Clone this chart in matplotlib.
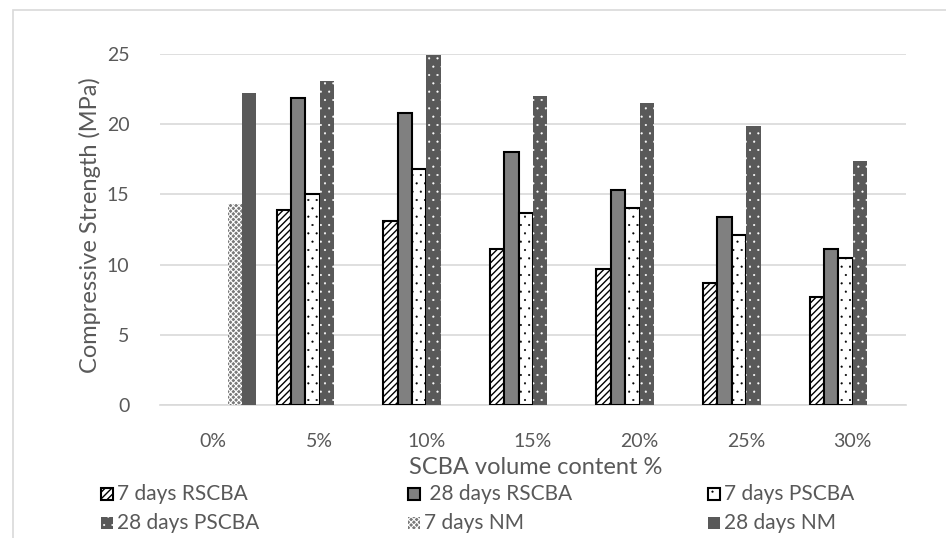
import matplotlib
matplotlib.use("Agg")
import matplotlib.pyplot as plt
import numpy as np
from matplotlib.patches import Rectangle

plt.rcParams['font.family'] = ['Lato', 'DejaVu Sans']
plt.rcParams['hatch.linewidth'] = 1.0

categories = ["0%", "5%", "10%", "15%", "20%", "25%", "30%"]
r7 = [0, 13.9, 13.1, 11.1, 9.7, 8.7, 7.7]
r28 = [0, 21.9, 20.8, 18.0, 15.3, 13.4, 11.1]
p7 = [0, 15.0, 16.8, 13.7, 14.0, 12.1, 10.5]
p28 = [0, 23.1, 24.9, 22.0, 21.5, 19.9, 17.4]
nm7 = [14.3, 0, 0, 0, 0, 0, 0]
nm28 = [22.2, 0, 0, 0, 0, 0, 0]
labels = ["7 days RSCBA", " 28 days RSCBA", "7 days PSCBA",
          "28 days PSCBA", "7 days NM", "28 days NM"]

txt = '#595959'
grid = '#d9d9d9'

fig = plt.figure(figsize=(9.46, 5.38), dpi=100)
ax = fig.add_axes([160/946, 1-405/538, (906-160)/946, (405-54)/538])

styles = [
    dict(facecolor='white', edgecolor='black', hatch='/////', linewidth=1.5),
    dict(facecolor='#808080', edgecolor='black', linewidth=1.5),
    dict(facecolor='white', edgecolor='black', hatch='..', linewidth=1.5),
    dict(facecolor='#595959', edgecolor='white', hatch='..', linewidth=0),
    dict(facecolor='#7a7a7a', edgecolor='white', hatch='xxxxxx', linewidth=0),
    dict(facecolor='#595959', edgecolor='#595959', linewidth=0),
]
hatch_lw = [1.0, 1.0, 0.3, 0.3, 0.8, 1.0]
series = [r7, r28, p7, p28, nm7, nm28]
x = np.arange(len(categories))
w = 0.135
for i, (vals, st) in enumerate(zip(series, styles)):
    vals = np.asarray(vals, dtype=float)
    keep = vals > 0
    offs = (i - 2.5) * w
    with plt.rc_context({'hatch.linewidth': hatch_lw[i]}):
        ax.bar(x[keep] + offs, vals[keep], w, zorder=3, **st)

ax.set_xlim(-0.5, len(categories) - 0.5)
ax.set_ylim(0, 25)
ax.set_yticks([0, 5, 10, 15, 20, 25])
ax.set_xticks(x)
ax.set_xticklabels(categories)
ax.yaxis.grid(True, color=grid, linewidth=1.2, zorder=0)
for s in ['top', 'right', 'left']:
    ax.spines[s].set_visible(False)
ax.spines['bottom'].set_color(grid)
ax.spines['bottom'].set_linewidth(1.2)
ax.tick_params(axis='both', length=0, labelsize=14, colors=txt)
ax.tick_params(axis='y', pad=22)
ax.tick_params(axis='x', pad=20)
fig.text(90/946, 1-225/538, "Compressive Strength (MPa)", fontsize=17, color=txt,
         rotation=90, ha='center', va='center')
fig.text(536/946, 1-468/538, "SCBA volume content %", fontsize=17, color=txt,
         ha='center', va='center')

# outer chart border
fig.patches.append(Rectangle((13/946, -0.1), 1.2, 1-10/538+0.1, transform=fig.transFigure,
                             fill=False, edgecolor=grid, linewidth=1.2))

# legend (manual, row-wise)
cols_x = [101, 408, 708]
rows_y = [494, 523]
for i, (lab, st) in enumerate(zip(labels, styles)):
    cx = cols_x[i % 3]
    cy = rows_y[i // 3]
    s = 12
    with plt.rc_context({'hatch.linewidth': hatch_lw[i]}):
        fig.patches.append(Rectangle((cx/946, 1-(cy+s/2)/538), s/946, s/538,
                                     transform=fig.transFigure, **st))
    fig.text((cx+s+4)/946, 1-cy/538, lab, fontsize=15, color=txt, ha='left', va='center')

fig.savefig("out.png", dpi=100)
